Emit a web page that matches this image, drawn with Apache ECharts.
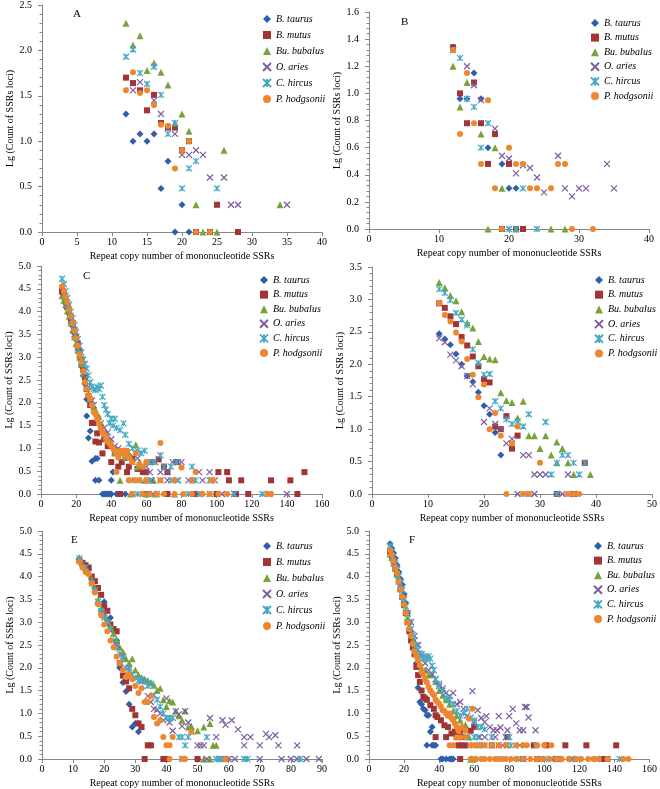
<!DOCTYPE html>
<html><head><meta charset="utf-8">
<script src="https://cdn.jsdelivr.net/npm/echarts@6/dist/echarts.min.js"></script>
<style>html,body{margin:0;padding:0;background:#fff}#c{width:660px;height:789px}</style>
</head><body><div id="c"></div>
<script>
const speciesNames = ['B. taurus','B. mutus','Bu. bubalus','O. aries','C. hircus','P. hodgsonii'];
const panelLetters = ['A','B','C','','E','F'];
const xMax = [40,40,160,50,90,160];
const xStep = [5,10,20,10,10,20];
const yMax = [2.5,1.6,5,3.5,5,5];
const yStep = [0.5,0.2,0.5,0.5,0.5,0.5];

// Panel A
const taurusA = [[12,1.30],[13,1.00],[14,1.08],[15,1.00],[16,1.08],[17,0.48],[18,0.78],[20,0.30],[19,0],[21,0]];
const mutusA = [[12,1.70],[13,1.64],[14,1.56],[15,1.34],[16,1.51],[17,1.20],[18,1.15],[19,1.15],[20,0.90],[21,1.00],[22,0],[25,0.30],[24,0],[28,0]];
const bubalusA = [[12,2.30],[13,2.06],[14,2.16],[15,1.78],[16,1.86],[17,1.76],[18,1.62],[19,1.20],[20,1.30],[21,1.11],[22,0.30],[23,0],[25,0],[26,0.90],[34,0.30]];
const ariesA = [[13,1.56],[14,1.65],[16,1.45],[17,1.30],[18,1.15],[19,1.08],[20,0.85],[21,0.85],[22,0.90],[23,0.85],[24,0.60],[26,0.60],[27,0.30],[28,0.30],[35,0.30]];
const hircusA = [[12,1.93],[13,2.01],[14,1.75],[15,1.63],[16,1.82],[17,1.51],[18,1.08],[19,1.20],[20,0.48],[21,0.70],[22,0.78],[25,0.48]];
const hodgsoniiA = [[12,1.56],[13,1.76],[14,1.53],[15,1.56],[16,1.40],[17,1.18],[18,1.17],[19,0.70],[20,0.90],[21,1.00],[22,0],[24,0]];

// Panel B
const taurusB = [[12,1.34],[13,0.96],[14,0.96],[15,1.15],[16,0.96],[17,0.60],[19,0.48],[20,0.30],[21,0.30]];
const mutusB = [[12,1.34],[13,1.00],[14,0.78],[15,1.08],[16,0.78],[17,0.48],[18,0.70],[20,0.48],[19,0],[21,0],[22,0]];
const bubalusB = [[12,1.20],[13,0.90],[14,1.08],[16,0.70],[18,0.60],[19,0.30],[17,0],[21,0],[26,0],[28,0]];
const ariesB = [[14,1.20],[15,1.06],[16,0.95],[18,0.74],[19,0.54],[20,0.52],[21,0.41],[22,0.47],[23,0.45],[24,0.38],[25,0.27],[27,0.54],[28,0.30],[29,0.24],[30,0.30],[31,0.30],[34,0.48],[35,0.30]];
const hircusB = [[12,1.32],[13,1.26],[14,0.96],[15,0.90],[16,0.60],[17,0.78],[22,0.30],[20,0],[21,0],[24,0]];
const hodgsoniiB = [[12,1.32],[13,0.70],[14,1.15],[15,0.78],[16,0.48],[17,0.95],[18,0.30],[20,0.60],[21,0.48],[22,0.48],[23,0.30],[24,0.30],[26,0.30],[27,0.48],[28,0.48],[19,0],[29,0],[32,0]];

// Panel C
const taurusC = [[12,4.4],[13,4.3],[14,4.18],[15,4.08],[16,3.95],[17,3.8],[18,3.68],[19,3.52],[20,3.38],[21,3.2],[22,3.0],[23,2.8],[24,2.6],[25,2.42],[26,2.08],[26,1.71],[27,1.23],[28,1.38],[29,0.72],[31,0.78],[32,0.78],[31,0.3],[33,0.3],[40,0.3],[41,0.48],[35,0],[36,0],[37,0],[38,0],[39,0],[40,0],[43,0],[48,0]];
const mutusC = [[12,4.45],[13,4.35],[14,4.25],[15,4.12],[16,4.0],[17,3.88],[18,3.75],[19,3.6],[20,3.45],[21,3.3],[22,3.12],[23,2.95],[24,2.72],[25,2.55],[26,2.3],[27,2.15],[28,1.95],[29,1.56],[30,1.56],[31,1.15],[32,1.33],[33,1.13],[35,0.89],[36,1.2],[38,1.05],[40,0.7],[42,0.9],[44,0.6],[46,0.7],[49,0.48],[50,0.6],[52,0.78],[55,0.55],[58,0.48],[60,0.48],[63,0.7],[67,0.76],[70,0.6],[72,0.48],[77,0.7],[101,0.48],[106,0.48],[107,0.3],[114,0.3],[131,0.3],[142,0.3],[150,0.48],[45,0],[60,0],[72,0],[88,0],[100,0],[111,0],[118,0],[146,0]];
const bubalusC = [[12,4.35],[13,4.25],[14,4.15],[15,4.02],[16,3.9],[17,3.75],[18,3.6],[19,3.45],[20,3.3],[21,3.15],[22,3.0],[23,2.85],[24,2.65],[25,2.5],[26,2.35],[27,2.2],[28,2.1],[29,2.0],[30,1.92],[31,1.85],[33,1.7],[35,1.5],[37,1.35],[39,1.2],[41,1.05],[42,0.9],[44,0.95],[46,0.9],[48,0.8],[50,0.9],[52,0.75],[54,1.08],[55,0.6],[56,0.7],[45,0.3],[59,0.3],[64,0.3],[51,0],[60,0],[65,0],[76,0]];
const ariesC = [[13,4.4],[15,4.1],[17,3.8],[19,3.5],[21,3.2],[23,2.9],[25,2.6],[27,2.35],[29,2.05],[30,1.95],[32,1.65],[34,1.55],[36,1.45],[38,1.35],[40,1.2],[42,1.05],[44,1.0],[46,0.95],[48,0.85],[50,0.8],[52,0.7],[55,0.78],[58,0.6],[60,0.6],[62,0.48],[65,0.7],[68,0.48],[72,0.48],[75,0.7],[78,0.7],[80,0.7],[90,0.48],[96,0.48],[63,0.3],[68,0.3],[72,0.3],[78,0.3],[84,0.3],[92,0.3],[97,0.3],[99,0.3],[64,0],[90,0],[103,0],[110,0],[130,0],[140,0]];
const hircusC = [[12,4.72],[13,4.6],[14,4.45],[15,4.3],[16,4.15],[17,4.0],[18,3.85],[19,3.7],[20,3.55],[21,3.4],[22,3.25],[23,3.1],[24,2.95],[25,2.85],[26,2.75],[27,2.6],[28,2.45],[29,2.35],[30,2.3],[31,2.28],[32,2.35],[33,2.3],[34,2.38],[35,2.13],[36,1.95],[37,1.85],[38,1.75],[39,1.55],[40,1.65],[41,1.5],[42,1.65],[43,1.45],[45,1.4],[47,1.55],[48,1.3],[50,1.1],[52,1.0],[55,0.95],[57,0.9],[59,0.95],[62,0.7],[64,0.7],[68,0.85],[70,0.6],[74,0.6],[77,0.7],[86,0.6],[52,0.3],[56,0.3],[62,0.3],[74,0.3],[78,0.3],[86,0.3],[88,0.3],[96,0.3],[55,0],[66,0],[84,0],[90,0],[96,0],[110,0],[126,0]];
const hodgsoniiC = [[12,4.55],[13,4.45],[14,4.33],[15,4.2],[16,4.05],[17,3.9],[18,3.75],[19,3.58],[20,3.42],[21,3.25],[22,3.05],[23,2.9],[24,2.7],[25,2.45],[26,2.3],[27,2.15],[28,2.1],[29,1.95],[30,1.8],[31,1.75],[32,1.65],[33,1.55],[34,1.45],[35,1.35],[36,1.3],[37,1.2],[38,1.15],[39,1.1],[40,1.05],[41,1.0],[42,0.95],[43,0.9],[44,0.8],[45,0.95],[46,0.9],[47,0.95],[48,0.85],[49,0.95],[50,0.8],[52,0.7],[54,0.9],[56,0.65],[58,0.6],[60,0.7],[68,1.12],[80,0.58],[88,0.48],[43,0.48],[50,0.3],[53,0.3],[56,0.3],[60,0.3],[68,0.3],[76,0.3],[86,0.3],[97,0.3],[98,0.3],[52,0],[58,0],[62,0],[66,0],[70,0],[76,0],[81,0],[86,0],[92,0],[96,0],[101,0],[106,0],[129,0],[131,0]];

// Panel D
const taurusD = [[12,2.47],[13,2.39],[14,2.30],[15,2.16],[16,2.00],[17,1.82],[18,1.73],[19,1.57],[20,1.36],[21,1.23],[22,0.95],[23,0.60]];
const mutusD = [[12,2.94],[13,2.87],[14,2.74],[15,2.62],[16,2.42],[17,2.29],[18,2.12],[19,1.97],[20,1.77],[21,1.72],[22,1.04],[23,1.00],[24,1.20],[25,0.70],[26,0.90],[33,0],[36,0],[38,0.48]];
const bubalusD = [[12,3.26],[13,3.18],[14,3.06],[15,2.98],[16,2.81],[17,2.64],[18,2.56],[19,2.35],[20,2.12],[21,2.08],[22,2.07],[23,1.56],[24,1.44],[25,1.41],[26,1.17],[27,1.43],[28,0.90],[29,0.90],[30,0.70],[31,0.90],[32,0.60],[33,0.80],[34,0.70],[35,0.48],[33,0.48],[36,0.30],[39,0.30]];
const ariesD = [[12,2.40],[13,2.34],[14,2.15],[15,2.06],[16,1.97],[17,1.82],[18,1.69],[20,1.11],[21,1.32],[22,1.08],[23,1.00],[24,0.78],[25,0.85],[27,0.60],[28,0.60],[29,0.30],[30,0.30],[31,0.30],[35,0.30],[26,0],[29,0],[34,0],[36,0]];
const hircusD = [[12,3.16],[13,3.10],[14,2.99],[15,2.79],[16,2.69],[17,2.60],[18,2.23],[19,2.02],[20,1.84],[21,1.85],[22,1.43],[23,1.32],[24,1.15],[25,1.08],[26,1.12],[27,1.04],[28,1.23],[31,1.11],[32,0.30],[33,0.48],[34,0.60],[35,0.60],[36,0.48],[37,0.30],[38,0.48],[28,0],[33,0]];
const hodgsoniiD = [[12,2.94],[13,2.76],[14,2.66],[15,2.49],[16,2.35],[17,2.08],[18,1.84],[19,1.49],[20,1.69],[21,1.00],[22,1.25],[23,0.90],[25,0.78],[26,1.04],[30,0.48],[24,0],[27,0],[28,0],[35,0],[36,0],[37,0]];

// Panel E
const taurusE = [[12,4.38],[13,4.3],[14,4.2],[15,4.15],[16,3.95],[17,3.75],[18,3.4],[19,3.25],[20,3.45],[21,3.05],[22,3.1],[23,2.8],[24,2.6],[25,2.0],[26,1.68],[27,1.48],[28,1.2],[29,0.70],[30,0.78],[31,0.60],[31,0.78],[50,0]];
const mutusE = [[12,4.35],[13,4.3],[14,4.25],[15,4.2],[16,4.0],[17,3.9],[18,3.75],[19,3.6],[20,3.35],[21,3.25],[22,2.95],[23,2.85],[24,2.8],[25,2.1],[26,1.83],[27,1.7],[28,1.55],[29,1.1],[30,0.96],[31,0.78],[32,0.70],[34,0.30],[35,0.30],[33,0],[39,0],[40,0],[50,0],[59,0]];
const bubalusE = [[12,4.42],[13,4.3],[14,4.2],[15,4.1],[16,3.95],[17,3.75],[18,3.5],[19,3.3],[20,3.15],[21,3.05],[22,2.9],[23,2.75],[24,2.6],[25,2.45],[26,2.35],[27,2.2],[28,2.1],[29,2.2],[30,1.95],[31,1.85],[32,1.78],[33,1.75],[34,1.72],[35,1.68],[36,1.62],[37,1.5],[38,1.55],[39,1.3],[40,1.15],[41,1.28],[42,1.25],[43,1.05],[44,0.95],[45,0.85],[46,1.05],[47,0.7],[48,0.72],[50,0.62],[52,0.70],[54,0.78],[55,0.30],[56,0.30],[52,0],[54,0]];
const ariesE = [[13,4.3],[16,3.9],[20,3.2],[24,2.5],[26,2.25],[28,2.0],[30,1.78],[32,1.7],[34,1.38],[35,1.25],[36,1.1],[37,1.08],[38,1.0],[39,0.85],[40,1.33],[41,0.8],[42,0.62],[43,1.05],[44,0.98],[45,0.72],[46,1.05],[47,0.8],[48,0.6],[50,0.30],[51,0.30],[52,0.30],[54,0.90],[56,0.48],[58,0.85],[59,0.75],[61,0.85],[63,0.65],[65,0.48],[65,0.30],[67,0.48],[70,0.30],[72,0.55],[73,0.48],[75,0.52],[76,0.30],[82,0.30],[53,0],[57,0],[60,0],[62,0],[70,0],[77,0],[80,0],[82,0],[85,0],[89,0]];
const hircusE = [[12,4.4],[14,4.2],[16,3.85],[17,3.7],[18,3.45],[19,3.25],[20,3.1],[21,3.0],[22,2.85],[23,2.6],[24,2.45],[25,2.3],[26,2.2],[27,2.0],[28,1.95],[29,1.85],[30,1.78],[31,1.72],[32,1.75],[33,1.7],[34,1.6],[35,1.65],[36,1.4],[37,1.3],[38,1.15],[39,1.0],[40,0.9],[41,0.9],[42,0.9],[44,0.48],[45,0.48],[46,0.30],[47,0.48],[53,0.48],[45,0],[56,0],[57,0],[58,0],[65,0],[66,0],[83,0]];
const hodgsoniiE = [[12,4.32],[13,4.2],[14,4.1],[15,4.05],[16,3.85],[17,3.65],[18,3.4],[19,3.15],[20,2.95],[21,2.8],[22,2.6],[23,2.45],[24,2.25],[25,2.1],[26,1.95],[27,1.8],[28,1.85],[29,1.75],[30,1.6],[31,1.45],[32,1.55],[33,1.25],[34,1.25],[35,1.38],[36,0.92],[37,0.78],[38,0.85],[39,0.48],[40,0.30],[41,0.30],[42,0.48],[48,0.6],[41,0],[45,0],[46,0],[59,0]];

// Panel F
const taurusF = [[12,4.72],[13,4.62],[14,4.52],[15,4.4],[16,4.25],[17,4.1],[18,3.95],[19,3.82],[20,3.62],[21,3.42],[22,3.2],[23,3.0],[24,2.8],[25,2.6],[26,2.4],[27,2.1],[28,1.56],[29,1.25],[30,1.2],[31,1.1],[32,1.07],[33,0.96],[34,0.96],[35,0.6],[36,0.7],[33,0.3],[36,0.3],[37,0.3],[38,0.3],[41,0],[42,0],[44,0],[46,0],[47,0],[48,0]];
const mutusF = [[12,4.55],[13,4.45],[14,4.35],[15,4.2],[16,4.05],[17,3.9],[18,3.72],[19,3.55],[20,3.38],[21,3.2],[22,3.0],[23,2.8],[24,2.6],[25,2.45],[26,2.3],[27,2.02],[28,1.84],[29,1.69],[30,1.5],[31,1.36],[32,1.33],[33,1.3],[35,1.18],[37,1.1],[38,0.96],[39,0.92],[41,0.85],[43,0.74],[45,0.7],[47,0.56],[49,0.6],[52,0.62],[58,0.62],[60,0.7],[38,0.48],[44,0.48],[50,0.48],[53,0.48],[79,0.48],[51,0.3],[53,0.3],[55,0.3],[70,0.3],[94,0.3],[101,0.3],[112,0.3],[124,0.3],[141,0.3],[52,0],[88,0],[96,0],[107,0],[134,0],[136,0]];
const bubalusF = [[12,4.5],[13,4.42],[14,4.3],[15,4.18],[16,4.05],[17,3.9],[18,3.75],[19,3.58],[20,3.42],[21,3.27],[22,3.1],[23,2.92],[24,2.75],[25,2.6],[26,2.45],[27,2.3],[28,2.2],[29,2.1],[30,2.0],[32,1.95],[34,1.85],[36,1.85],[38,1.7],[40,1.5],[42,1.4],[44,1.3],[46,1.2],[48,1.05],[50,0.95],[52,0.85],[55,0.75],[57,0.48],[58,0],[59,0]];
const ariesF = [[13,4.5],[15,4.25],[18,3.8],[20,3.5],[22,3.2],[24,3.0],[26,2.7],[28,2.5],[30,2.3],[32,2.1],[34,1.95],[36,1.85],[38,1.75],[40,1.6],[42,1.55],[44,1.45],[46,1.38],[48,1.45],[50,1.2],[52,1.25],[54,1.1],[56,0.95],[59,1.49],[60,0.8],[62,1.07],[64,0.9],[66,0.81],[67,0.94],[69,0.7],[71,0.63],[73,0.63],[74,0.94],[75,0.69],[79,0.63],[80,0.94],[82,1.1],[84,0.78],[86,0.63],[88,0.63],[89,1.14],[90,1.14],[91,0.91],[95,0.63],[63,0.48],[66,0.48],[72,0.48],[78,0.48],[57,0.3],[74,0.3],[76,0.3],[86,0.3],[98,0],[104,0],[108,0],[116,0],[130,0]];
const hircusF = [[12,4.68],[13,4.55],[14,4.45],[15,4.3],[16,4.15],[17,4.0],[18,3.85],[19,3.7],[20,3.52],[21,3.35],[22,3.18],[23,3.0],[24,2.85],[25,2.72],[26,2.6],[27,2.5],[28,2.4],[29,2.32],[30,2.25],[31,2.2],[32,2.25],[33,2.2],[34,2.25],[35,2.2],[36,2.05],[37,1.95],[38,1.75],[40,1.65],[42,1.5],[44,1.35],[46,1.3],[48,1.2],[50,1.05],[52,0.95],[54,1.0],[56,1.1],[58,0.9],[60,0.85],[62,0.7],[64,0.7],[66,0.65],[56,0.48],[60,0.48],[62,0.48],[70,0.48],[80,0.48],[62,0.3],[63,0.3],[66,0.3],[79,0.3],[81,0.3],[95,0.3],[60,0],[75,0],[85,0],[100,0],[115,0],[119,0],[130,0],[143,0]];
const hodgsoniiF = [[12,4.58],[13,4.48],[14,4.35],[15,4.2],[16,4.08],[17,3.9],[18,3.72],[19,3.55],[20,3.38],[21,3.2],[22,3.0],[23,2.85],[24,2.7],[25,2.52],[26,2.35],[27,2.25],[28,2.16],[29,2.05],[30,1.91],[31,1.85],[32,1.75],[33,1.68],[34,1.58],[35,1.5],[36,1.45],[37,1.4],[38,1.3],[39,1.25],[40,1.21],[41,1.15],[42,1.07],[43,1.05],[44,1.0],[45,0.95],[46,1.0],[47,0.9],[48,0.85],[49,0.78],[50,0.7],[51,0.62],[53,0.7],[55,0.62],[57,0.88],[59,1.1],[50,0.47],[52,0.47],[55,0.48],[46,0.3],[48,0.3],[58,0.3],[60,0.3],[63,0.3],[66,0.3],[70,0.3],[74,0.3],[78,0.3],[84,0.3],[88,0.3],[90,0.3],[96,0.3],[100,0.3],[104,0.3],[58,0],[61,0],[64,0],[66,0],[69,0],[72,0],[75,0],[78,0],[81,0],[84,0],[88,0],[92,0],[96,0],[99,0],[103,0],[107,0],[110,0],[114,0],[118,0],[121,0],[125,0],[128,0],[131,0],[136,0],[145,0],[148,0]];

const panelData = [
  [taurusA, mutusA, bubalusA, ariesA, hircusA, hodgsoniiA],
  [taurusB, mutusB, bubalusB, ariesB, hircusB, hodgsoniiB],
  [taurusC, mutusC, bubalusC, ariesC, hircusC, hodgsoniiC],
  [taurusD, mutusD, bubalusD, ariesD, hircusD, hodgsoniiD],
  [taurusE, mutusE, bubalusE, ariesE, hircusE, hodgsoniiE],
  [taurusF, mutusF, bubalusF, ariesF, hircusF, hodgsoniiF]
];

const FONT = "'Liberation Serif','Times New Roman',serif";
const colors = ['#2F5FAA','#A13536','#78A33C','#7B5E9F','#45A8C4','#EE8630'];
const symbols = ['diamond','rect','triangle','path://M0,0L10,10M10,0L0,10','path://M0,0L10,10M10,0L0,10M5,0L5,10','circle'];
const sizes = [7,6,7,6,6,6];

const grids = [
  {left:42, top:5, width:280, height:227},
  {left:369, top:12, width:280, height:217},
  {left:41, top:266, width:281, height:228},
  {left:372, top:267, width:280, height:227},
  {left:42, top:531, width:280, height:228},
  {left:369, top:531, width:281, height:228}
];
const legendPos = [
  {left:257, top:8, itemGap:4},
  {left:585, top:12, itemGap:2.6},
  {left:254, top:269, itemGap:2.6},
  {left:589, top:269, itemGap:2.7},
  {left:257, top:535, itemGap:4},
  {left:588, top:535, itemGap:2.6}
];
const letterPos = [[77,15],[405,23],[87,277],[0,0],[75,541],[413,541]];

const axisColor = '#868686';
const xAxes = [], yAxes = [], series = [], legends = [], graphics = [];
for (let p = 0; p < 6; p++) {
  xAxes.push({
    gridIndex:p, type:'value', min:0, max:xMax[p], interval:xStep[p],
    name:'Repeat copy number of mononucleotide SSRs', nameLocation:'middle', nameGap:19,
    nameTextStyle:{fontFamily:FONT, fontSize:10, color:'#000'},
    axisLine:{show:true, onZero:false, lineStyle:{color:axisColor, width:1}},
    axisTick:{show:true, length:4, lineStyle:{color:axisColor}},
    axisLabel:{fontFamily:FONT, fontSize:10, color:'#000', margin:5},
    splitLine:{show:false}
  });
  yAxes.push({
    gridIndex:p, type:'value', min:0, max:yMax[p], interval:yStep[p],
    name:'Lg (Count of SSRs loci)', nameLocation:'middle', nameGap: (p%2===0)?26:27,
    nameTextStyle:{fontFamily:FONT, fontSize:10, color:'#000'},
    axisLine:{show:true, lineStyle:{color:axisColor, width:1}},
    axisTick:{show:true, length:4, lineStyle:{color:axisColor}},
    minorTick:{show:true, splitNumber:5, length:2.5, lineStyle:{color:axisColor}},
    axisLabel:{fontFamily:FONT, fontSize:10, color:'#000', margin:10, formatter:v=>v.toFixed(1)},
    splitLine:{show:false}
  });
  for (let s = 0; s < 6; s++) {
    const stroke = s === 3 || s === 4;
    series.push({
      type:'scatter', name:speciesNames[s], xAxisIndex:p, yAxisIndex:p,
      data:panelData[p][s], symbol:symbols[s], symbolSize:sizes[s], clip:false,
      itemStyle: stroke ? {color:'rgba(0,0,0,0)', borderColor:colors[s], borderWidth:1.2, opacity:1}
                        : {color:colors[s], opacity:1},
      emphasis:{disabled:true}
    });
  }
  legends.push({
    orient:'vertical', left:legendPos[p].left, top:legendPos[p].top, itemGap:legendPos[p].itemGap,
    itemWidth:8, itemHeight:8, data:speciesNames,
    textStyle:{fontFamily:FONT, fontSize:10, fontStyle:'italic', color:'#000', lineHeight:12}
  });
  if (panelLetters[p]) {
    graphics.push({type:'text', left:letterPos[p][0]-4, top:letterPos[p][1]-6,
      style:{text:panelLetters[p], font:'11px '+FONT, fill:'#000'}});
  }
}

const chart = echarts.init(document.getElementById('c'), null, {renderer:'canvas'});
chart.setOption({
  animation:false, backgroundColor:'#fff',
  grid:grids, xAxis:xAxes, yAxis:yAxes, series:series, legend:legends, graphic:graphics
});
</script></body></html>
